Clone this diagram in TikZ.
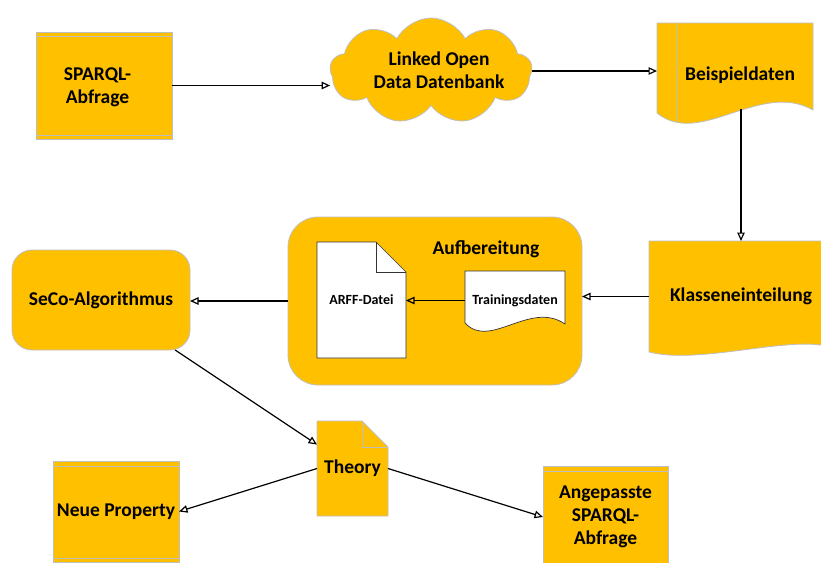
\documentclass[tikz,border=0pt]{standalone}
\usepackage{fontspec}
\setmainfont{Carlito}
\usetikzlibrary{shapes.symbols,arrows.meta}

\definecolor{gold}{HTML}{FFC000}
\definecolor{edge}{HTML}{BFBFBF}

\begin{document}
\begin{tikzpicture}[x=1pt,y=-1pt,
  lbl/.style={font=\bfseries\fontsize{19.5}{23}\selectfont, align=center, inner sep=0pt},
  small/.style={font=\bfseries\fontsize{14}{17}\selectfont, inner sep=0pt},
  box/.style={fill=gold, draw=edge, line width=0.8pt},
  ghost/.style={inner sep=0pt, outer sep=0pt},
  paper/.style={fill=white, draw=black!80, line width=0.7pt},
  rule/.style={draw=edge, line width=0.8pt},
  arr/.style={line width=1.2pt, -{Triangle[open,length=8.5pt,width=7.5pt]}}
]
\useasboundingbox (0,0) rectangle (821,562);
\clip (0,0) rectangle (821,562);

% --- query box with inner rules
\node[box, ghost, minimum width=136pt, minimum height=107pt] (sparql) at (104,85.5) {};
\draw[rule] ([yshift=-4pt]sparql.north west) -- ([yshift=-4pt]sparql.north east);
\draw[rule] ([yshift=4pt]sparql.south west) -- ([yshift=4pt]sparql.south east);
\node[lbl] (sparqlt) at (97.5,87) {SPARQL-\\Abfrage};

% --- linked open data cloud
\node[cloud, cloud puffs=9, cloud puff arc=125, cloud ignores aspect, box, ghost,
      minimum width=202pt, minimum height=106pt] (lod) at (431,71) {};
\node[lbl] (lodt) at (439,70) {Linked Open\\Data Datenbank};

% --- sample data (document with wavy bottom and inner rule)
\path[box] (657,23) -- (813,23) -- (813,110)
  .. controls (760,80) and (700,148) .. (657,113) -- cycle;
\draw[rule] (677,23) -- (677,122);
\node[ghost, minimum width=156pt, minimum height=86pt] (beis) at (735,66) {};
\node[lbl, anchor=base] (beist) at (740,80) {Beispieldaten};

% --- class assignment (wavy bottom)
\path[box] (649,241) -- (830,241) -- (830,347)
  .. controls (790,335) and (700,365) .. (649,352) -- cycle;
\node[lbl, ghost, minimum width=184pt, minimum height=111pt] (klass) at (741,296.5) {Klasseneinteilung};

% --- preparation container
\node[box, ghost, rounded corners=30pt, minimum width=294pt, minimum height=168pt] (aufb) at (435,301) {};
\node[lbl, anchor=base] (aufbt) at (486,254) {Aufbereitung};

% ARFF file (folded page)
\path[paper] (317,242) -- (376,242) -- (406,272) -- (406,358) -- (317,358) -- cycle;
\draw[paper, fill=none] (376,242) -- (376,272) -- (406,272);
\node[small, ghost, minimum width=89pt, minimum height=116pt] (arff) at (361.5,300) {ARFF-Datei};

% training data (document with wavy bottom)
\path[paper] (465,271) -- (565,271) -- (565,324)
  .. controls (530,300) and (490,350) .. (465,323) -- cycle;
\node[small, ghost, minimum width=100pt, minimum height=50pt] (train) at (515,300.5) {Trainingsdaten};

% --- separate-and-conquer algorithm
\node[box, lbl, ghost, rounded corners=20pt, minimum width=178pt, minimum height=100pt] (seco) at (101,300) {SeCo-Algorithmus};

% --- theory (folded page)
\path[box] (317,421) -- (362,421) -- (388,447) -- (388,516) -- (317,516) -- cycle;
\draw[rule] (362,421) -- (362,447) -- (388,447);
\node[lbl, ghost, minimum width=71pt, minimum height=95pt] (theory) at (352.5,468.5) {Theory};

% --- results
\node[box, lbl, ghost, minimum width=126pt, minimum height=101pt] (neue) at (116,511.5) {Neue Property};
\draw[rule] ([yshift=-5pt]neue.north west) -- ([yshift=-5pt]neue.north east);
\draw[rule] ([yshift=4pt]neue.south west) -- ([yshift=4pt]neue.south east);

\node[box, lbl, ghost, minimum width=125pt, minimum height=102pt] (angep) at (605.5,517) {Angepasste\\SPARQL-\\Abfrage};
\draw[rule] ([yshift=-5pt]angep.north west) -- ([yshift=-5pt]angep.north east);

% --- connectors
\draw[arr] (sparql.east) -- (sparql.east -| lod.west);
\draw[arr] (lod.east) -- (lod.east -| beis.west);
\draw[arr] (beis.south -| klass.north) -- (klass.north);
\draw[arr] (klass.west) -- (klass.west -| aufb.east);
\draw[arr] (train.west) -- (train.west -| arff.east);
\draw[arr] (aufb.west) -- (aufb.west -| seco.east);
\draw[arr] (seco.-34.8) -- (theory.146.5);
\draw[arr] (theory.west) -- (neue.east);
\draw[arr] (theory.east) -- (angep.west);
\end{tikzpicture}
\end{document}
